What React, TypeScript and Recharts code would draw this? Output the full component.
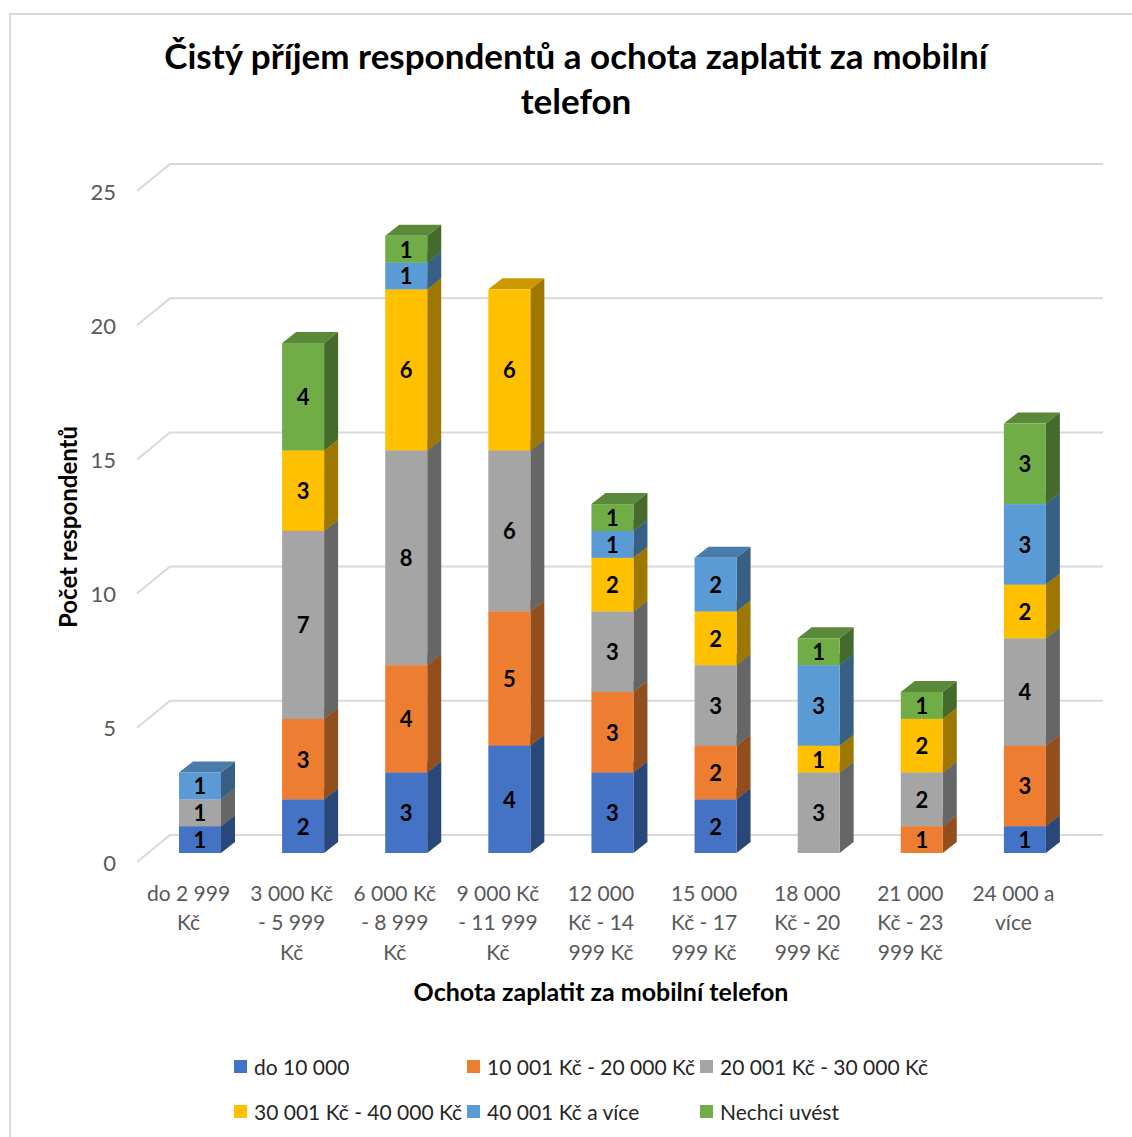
import React from 'react';
import { BarChart, Bar, XAxis, YAxis, CartesianGrid, LabelList } from 'recharts';

const categories = [
  'do 2 999 Kč',
  '3 000 Kč - 5 999 Kč',
  '6 000 Kč - 8 999 Kč',
  '9 000 Kč - 11 999 Kč',
  '12 000 Kč - 14 999 Kč',
  '15 000 Kč - 17 999 Kč',
  '18 000 Kč - 20 999 Kč',
  '21 000 Kč - 23 999 Kč',
  '24 000 a více',
];

// wrapped the way the axis shows them
const categoryLines = [
  ['do 2 999', 'Kč'],
  ['3 000 Kč', '- 5 999', 'Kč'],
  ['6 000 Kč', '- 8 999', 'Kč'],
  ['9 000 Kč', '- 11 999', 'Kč'],
  ['12 000', 'Kč - 14', '999 Kč'],
  ['15 000', 'Kč - 17', '999 Kč'],
  ['18 000', 'Kč - 20', '999 Kč'],
  ['21 000', 'Kč - 23', '999 Kč'],
  ['24 000 a', 'více'],
];

const seriesNames = [
  'do 10 000',
  '10 001 Kč - 20 000 Kč',
  '20 001 Kč - 30 000 Kč',
  '30 001 Kč - 40 000 Kč',
  '40 001 Kč a více',
  'Nechci uvést',
];
const seriesColors = ['#4472C4', '#ED7D31', '#A5A5A5', '#FFC000', '#5B9BD5', '#70AD47'];

const do10000 = [1, 2, 3, 4, 3, 2, 0, 0, 1];
const od10001 = [0, 3, 4, 5, 3, 2, 0, 1, 3];
const od20001 = [1, 7, 8, 6, 3, 3, 3, 2, 4];
const od30001 = [0, 3, 6, 6, 2, 2, 1, 2, 2];
const od40001 = [1, 0, 1, 0, 1, 2, 3, 0, 3];
const nechci = [0, 4, 1, 0, 1, 0, 1, 1, 3];

const yTicks = [0, 5, 10, 15, 20, 25];

const seriesValues = [do10000, od10001, od20001, od30001, od40001, nechci];
const data = categories.map((name, i) => {
  const row: any = { name };
  seriesValues.forEach((vals, s) => {
    row['s' + s] = vals[i];
  });
  return row;
});

const FONT = 'Lato, "Open Sans", sans-serif';
const DX = 14;
const DY = 11;

function shade(hex: string, f: number) {
  const n = parseInt(hex.slice(1), 16);
  const r = Math.round(((n >> 16) & 255) * f);
  const g = Math.round(((n >> 8) & 255) * f);
  const b = Math.round((n & 255) * f);
  return `rgb(${r},${g},${b})`;
}

function Box3D(props: any) {
  const { x, y, width, height, fill } = props;
  if (!height || height <= 0.5) return null;
  const w = width;
  return (
    <g>
      <polygon
        points={`${x},${y} ${x + DX},${y - DY} ${x + w + DX},${y - DY} ${x + w},${y}`}
        fill={shade(fill, 0.8)}
      />
      <polygon
        points={`${x + w},${y} ${x + w + DX},${y - DY} ${x + w + DX},${y + height - DY} ${x + w},${y + height}`}
        fill={shade(fill, 0.62)}
      />
      <rect x={x} y={y} width={w} height={height} fill={fill} />
    </g>
  );
}

function SegLabel(props: any) {
  const { x, y, width, height, value } = props;
  if (!value) return null;
  return (
    <text
      x={x + width / 2}
      y={y + height / 2}
      textAnchor="middle"
      dominantBaseline="central"
      fontFamily={FONT}
      fontWeight="bold"
      fontSize={22}
      fill="#000"
    >
      {value}
    </text>
  );
}

function YTick(props: any) {
  const { y, payload } = props;
  return (
    <text x={116} y={y + 9} textAnchor="end" dominantBaseline="central" fontFamily={FONT} fontSize={22} fill="#595959">
      {payload.value}
    </text>
  );
}

function XTick(props: any) {
  const { x, payload } = props;
  const lines = categoryLines[payload.index] || [];
  return (
    <g>
      {lines.map((l, i) => (
        <text
          key={i}
          x={x - 11}
          y={892 + i * 29.5}
          textAnchor="middle"
          dominantBaseline="central"
          fontFamily={FONT}
          fontSize={21}
          fill="#595959"
        >
          {l}
        </text>
      ))}
    </g>
  );
}

function GridLine(props: any) {
  const { x1, x2, y1, index } = props;
  const d = `M${x1 - 11},${y1 + 9} L${x1 + 22},${y1 - 18} L${x2 + 27},${y1 - 18}`;
  return <path key={'g' + index} d={d} stroke="#d9d9d9" strokeWidth={2} fill="none" />;
}

export default function App() {
  return (
    <div style={{ position: 'absolute', left: 0, top: 0, width: 1132, height: 1137, background: '#fff', overflow: 'hidden' }}>
      <div
        style={{
          position: 'absolute',
          left: 9,
          top: 13,
          width: 1140,
          height: 1140,
          border: '2px solid #d9d9d9',
        }}
      />
      <div
        style={{
          position: 'absolute',
          left: 0,
          top: 33,
          width: 1152,
          textAlign: 'center',
          fontFamily: FONT,
          fontWeight: 'bold',
          fontSize: 35,
          lineHeight: '45px',
          color: '#000',
        }}
      >
        Čistý příjem respondentů a ochota zaplatit za mobilní
        <br />
        telefon
      </div>
      <div style={{ position: 'absolute', left: 0, top: 0 }}>
        <BarChart
          width={1132}
          height={1137}
          data={data}
          margin={{ top: 182, right: 56, left: 88, bottom: 174 }}
          barSize={42}
        >
          <CartesianGrid vertical={false} horizontal={(p: any) => <GridLine {...p} />} />
          <XAxis dataKey="name" axisLine={false} tickLine={false} interval={0} height={110} tick={<XTick />} />
          <YAxis
            domain={[0, 25]}
            ticks={yTicks}
            axisLine={false}
            tickLine={false}
            width={60}
            tick={<YTick />}
          />
          {seriesNames.map((n, s) => (
            <Bar
              key={n}
              dataKey={'s' + s}
              name={n}
              stackId="a"
              fill={seriesColors[s]}
              shape={<Box3D />}
              isAnimationActive={false}
            >
              <LabelList dataKey={'s' + s} content={<SegLabel />} />
            </Bar>
          ))}
          <text
            x={67}
            y={527}
            transform="rotate(-90 67 527)"
            textAnchor="middle"
            dominantBaseline="central"
            fontFamily={FONT}
            fontWeight="bold"
            fontSize={24}
            fill="#000"
          >
            Počet respondentů
          </text>
          <text
            x={601}
            y={991}
            textAnchor="middle"
            dominantBaseline="central"
            fontFamily={FONT}
            fontWeight="bold"
            fontSize={25}
            fill="#000"
          >
            Ochota zaplatit za mobilní telefon
          </text>
        </BarChart>
      </div>
      {seriesNames.map((n, s) => {
        const col = s % 3;
        const row = Math.floor(s / 3);
        return (
          <div
            key={n}
            style={{
              position: 'absolute',
              left: 234 + col * 233,
              top: 1066 + row * 45 - 12,
              height: 24,
              display: 'flex',
              alignItems: 'center',
              fontFamily: FONT,
              fontSize: 21,
              color: '#262626',
              whiteSpace: 'nowrap',
            }}
          >
            <span style={{ display: 'inline-block', width: 13, height: 13, background: seriesColors[s], marginRight: 7, flex: 'none' }} />
            {n}
          </div>
        );
      })}
    </div>
  );
}
